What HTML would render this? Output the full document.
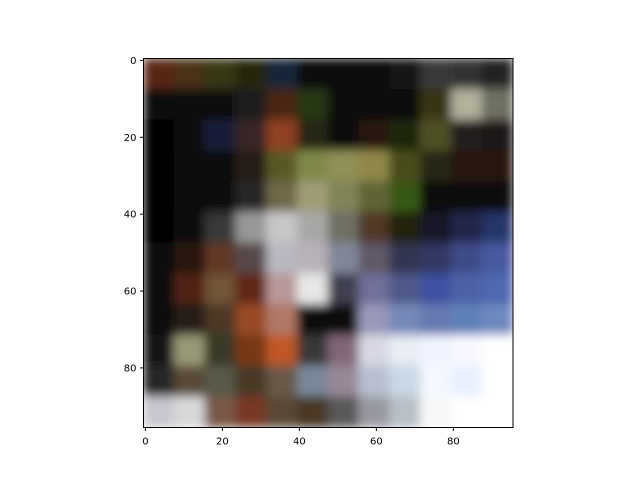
<!DOCTYPE html>
<html><head><meta charset="utf-8"><style>
body{margin:0;background:#fff;}
svg{display:block;font-family:"DejaVu Sans","Liberation Sans",sans-serif;}
</style></head><body>
<svg id="chart" width="640" height="480" viewBox="0 0 640 480" xmlns="http://www.w3.org/2000/svg">
<defs>
<clipPath id="clip"><rect x="143.5" y="58.5" width="369.5" height="369"/></clipPath>
<filter id="blur" x="0" y="0" width="1" height="1"><feGaussianBlur stdDeviation="5" edgeMode="duplicate"/></filter>
</defs>
<g id="img" clip-path="url(#clip)"><g id="cells" filter="url(#blur)"></g></g>
<rect x="143.5" y="58.5" width="369.5" height="369" fill="none" stroke="#000" stroke-width="1"/>
<g id="ticks"></g>
</svg>
<script>
const gridRows = [
["#582818","#483018","#383818","#282810","#182838","#101010","#080808","#101010","#141414","#383838","#303030","#202020"],
["#0a0a0a","#101010","#101010","#1c1c1c","#482818","#283818","#100808","#080808","#101010","#383418","#b0b09c","#707064"],
["#050505","#0c0c0c","#141c38","#382828","#904020","#282818","#0c0c0c","#281410","#1c2810","#505028","#241c1c","#1c1414"],
["#050505","#080808","#0c0808","#281c14","#585828","#808848","#909058","#908848","#484c1c","#282814","#28180c","#28180c"],
["#050505","#080808","#0c0c0c","#282828","#706848","#a09c78","#808458","#606438","#385818","#101010","#0c0c0c","#0c0c10"],
["#050505","#0c0c0c","#383838","#989898","#c8c8c8","#a8a8a8","#707064","#503828","#20200c","#181828","#202848","#283468"],
["#080808","#281410","#603828","#584848","#b8b8c0","#b8b0b8","#808898","#605868","#303450","#303860","#404c88","#4858a0"],
["#080808","#502014","#705438","#602818","#b89898","#e8e8e8","#404050","#707098","#505888","#4050a0","#5060a8","#5068b0"],
["#0c0c0c","#281c14","#483828","#984828","#b07868","#0c0c0c","#101010","#9898b8","#7888b8","#6878b0","#6080b8","#7088c0"],
["#141414","#989878","#383828","#783818","#c05828","#383838","#806878","#d8d8e4","#e8ecf4","#f0f4ff","#f8f8ff","#ffffff"],
["#282828","#584838","#585848","#483828","#685848","#788898","#988898","#b8c0d0","#c8d8e4","#f4f8ff","#e8f0ff","#ffffff"],
["#c8c8d0","#d8d8d8","#785848","#783828","#584838","#483828","#585858","#9898a0","#b8c0c8","#f8f8f8","#ffffff","#ffffff"]
];
const xTicks = [0,20,40,60,80];
const yTicks = [0,20,40,60,80];
const nPix = 96;
const x0=143.5, y0=58.5, W=369.5, H=369;
const sx = v => x0 + (v+0.5)*W/nPix;
const sy = v => y0 + (v+0.5)*H/nPix;
const NS="http://www.w3.org/2000/svg";
const cells=document.getElementById('cells');
const n=gridRows.length, cw=W/gridRows[0].length, ch=H/n;
gridRows.forEach((row,r)=>row.forEach((c,k)=>{
  const e=document.createElementNS(NS,'rect');
  
  
  e.setAttribute('x',x0+k*cw-0.5);e.setAttribute('y',y0+r*ch-0.5);
  e.setAttribute('width',cw+1);e.setAttribute('height',ch+1);e.setAttribute('fill',c);
  cells.appendChild(e);
}));
const tg=document.getElementById('ticks');
xTicks.forEach(t=>{
  const X=sx(t);
  const l=document.createElementNS(NS,'line');
  
  
  l.setAttribute('x1',X);l.setAttribute('x2',X);l.setAttribute('y1',y0+H);l.setAttribute('y2',y0+H+3.5);l.setAttribute('stroke','#000');
  tg.appendChild(l);
  const tx=document.createElementNS(NS,'text');
  
  
  tx.setAttribute('x',X);tx.setAttribute('y',y0+H+17);tx.setAttribute('font-size','10');tx.setAttribute('text-anchor','middle');
  tx.textContent=t;tg.appendChild(tx);
});
yTicks.forEach(t=>{
  const Y=sy(t);
  const l=document.createElementNS(NS,'line');
  
  
  l.setAttribute('x1',x0-3.5);l.setAttribute('x2',x0);l.setAttribute('y1',Y);l.setAttribute('y2',Y);l.setAttribute('stroke','#000');
  tg.appendChild(l);
  const tx=document.createElementNS(NS,'text');
  
  
  tx.setAttribute('x',x0-7);tx.setAttribute('y',Y+3.5);tx.setAttribute('font-size','10');tx.setAttribute('text-anchor','end');
  tx.textContent=t;tg.appendChild(tx);
});
</script>
</body></html>
